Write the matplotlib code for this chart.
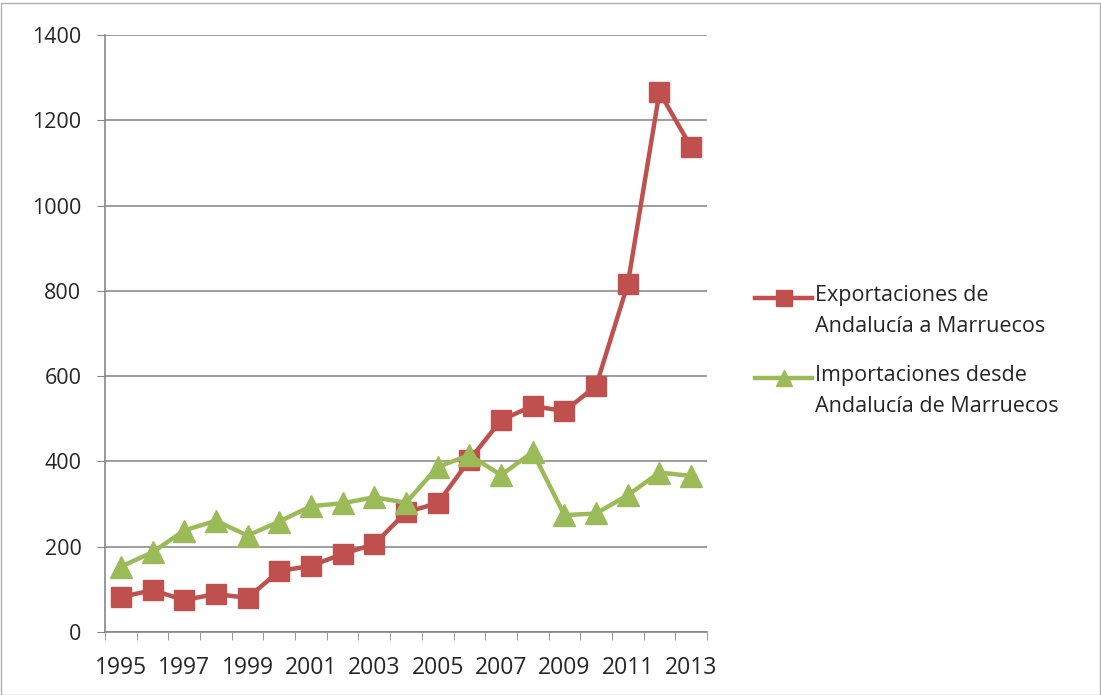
import matplotlib.pyplot as plt
from matplotlib.patches import Rectangle
from matplotlib.lines import Line2D

years = list(range(1995, 2014))
exportaciones = [82, 98, 75, 89, 80, 143, 155, 183, 206, 281, 302, 403, 497, 530, 518, 577, 816, 1266, 1137]
importaciones = [153, 187, 238, 261, 226, 259, 295, 302, 316, 303, 387, 415, 368, 422, 274, 278, 321, 374, 366]
label_exp = 'Exportaciones de\nAndalucía a Marruecos'
label_imp = 'Importaciones desde\nAndalucía de Marruecos'
yticks = [0, 200, 400, 600, 800, 1000, 1200, 1400]

plt.rcParams['font.family'] = ['Open Sans', 'DejaVu Sans']
txt = '#262626'
red = '#C0504D'
green = '#9BBB59'

fig = plt.figure(figsize=(11.01, 6.95), dpi=100)
ax = fig.add_axes([105/1101, 1 - 632/695, 602/1101, 597/695])

x = list(range(len(years)))
ax.plot(x, exportaciones, color=red, lw=3.2, marker='s', ms=14,
        mec=red, zorder=3)
ax.plot(x, importaciones, color=green, lw=3.2, marker='^', ms=16,
        mec=green, zorder=4)

ax.set_xlim(-0.5, len(years) - 0.5)
ax.set_ylim(0, 1400)
ax.set_yticks(yticks)
ax.set_yticklabels([str(v) for v in yticks], fontsize=15.5, color=txt)
ax.set_xticks(x[::2])
ax.set_xticklabels([str(y) for y in years[::2]], fontsize=16.5, color=txt)
ax.set_xticks([i - 0.5 for i in range(len(years) + 1)], minor=True)
ax.tick_params(axis='x', which='major', length=0, pad=17)
ax.tick_params(axis='x', which='minor', length=6, color='#888888', direction='out')
ax.tick_params(axis='y', length=6, color='#888888', pad=11)
ax.grid(axis='y', color='#8c8c8c', lw=1.2)
ax.set_axisbelow(True)
for s in ['top', 'right']:
    ax.spines[s].set_visible(False)
for s in ['left', 'bottom']:
    ax.spines[s].set_color('#888888')
    ax.spines[s].set_linewidth(1.2)

# legend, Excel style: handle aligned with first text line
W, H = 1101, 695
for (y0, col, mk, ms, lab) in [(298, red, 's', 11, label_exp), (378, green, '^', 11, label_imp)]:
    fig.add_artist(Line2D([755/W, 812/W], [1 - y0/H, 1 - y0/H], color=col, lw=3.2))
    fig.add_artist(Line2D([783.5/W], [1 - y0/H], color=col, marker=mk, ms=ms, mec=col))
    fig.text(815/W, 1 - (y0 - 13)/H, lab, fontsize=15.5, color=txt, va='top', ha='left',
             linespacing=1.62)

fig.patches.append(Rectangle((0.001, 0), 0.998, 0.995, transform=fig.transFigure,
                             fill=False, ec='#b0b0b0', lw=1))

fig.savefig('out.png', dpi=100)
